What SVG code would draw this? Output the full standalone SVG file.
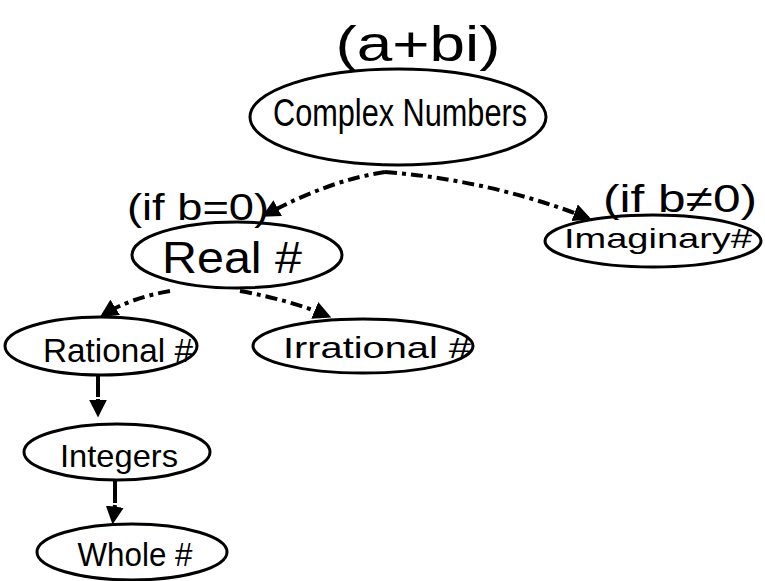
<svg xmlns="http://www.w3.org/2000/svg" width="765" height="581" viewBox="0 0 765 581">
<defs>
<style>
.node ellipse{fill:#fff;stroke:#000;stroke-width:3}
text{font-family:"Liberation Sans","DejaVu Sans",sans-serif;fill:#000;text-anchor:middle}
.conn path{fill:none;stroke:#000;stroke-width:4;stroke-dasharray:12 5 4 5}
.conn .solid{stroke-dasharray:none}
</style>
<marker id="ah" viewBox="0 0 10 10" refX="8" refY="5" markerWidth="4.5" markerHeight="4.5" orient="auto-start-reverse">
<path d="M0,0 L10,5 L0,10 Z" fill="#000"/>
</marker>
</defs>
<rect width="765" height="581" fill="#fff"/>
<g id="connectors" class="conn">
<path d="M385,172 Q330,180 265,215" marker-end="url(#ah)"/>
<path d="M385,172 Q490,180 588,218" marker-end="url(#ah)"/>
<path d="M170,291 Q130,298 103,315" marker-end="url(#ah)"/>
<path d="M240,291 Q290,300 328,316" marker-end="url(#ah)"/>
<path class="solid" d="M98,376 L98,397"/>
<path d="M98,399 L98,414" marker-end="url(#ah)"/>
<path class="solid" d="M115,481 L115,503"/>
<path d="M115,505 L113,521" marker-end="url(#ah)"/>
</g>
<g id="complex" class="node">
<ellipse cx="398" cy="117" rx="148" ry="48"/>
<text x="400" y="126" font-size="38" textLength="254" lengthAdjust="spacingAndGlyphs">Complex Numbers</text>
<text x="418" y="61" font-size="50" textLength="165" lengthAdjust="spacingAndGlyphs">(a+bi)</text>
</g>
<g id="real" class="node">
<ellipse cx="237" cy="255" rx="105" ry="33"/>
<text x="232" y="273" font-size="44" textLength="140" lengthAdjust="spacingAndGlyphs">Real #</text>
<text x="198" y="220" font-size="36" textLength="142" lengthAdjust="spacingAndGlyphs">(if b=0)</text>
</g>
<g id="imaginary" class="node">
<ellipse cx="653" cy="241" rx="108" ry="26"/>
<text x="658" y="248" font-size="28" textLength="188" lengthAdjust="spacingAndGlyphs">Imaginary#</text>
<text x="680" y="212" font-size="38" textLength="154" lengthAdjust="spacingAndGlyphs">(if b≠0)</text>
</g>
<g id="rational" class="node">
<ellipse cx="101" cy="346" rx="96" ry="29"/>
<text x="118" y="362" font-size="34" textLength="150" lengthAdjust="spacingAndGlyphs">Rational #</text>
</g>
<g id="irrational" class="node">
<ellipse cx="363" cy="346" rx="110" ry="27"/>
<text x="377" y="358" font-size="29" textLength="188" lengthAdjust="spacingAndGlyphs">Irrational #</text>
</g>
<g id="integers" class="node">
<ellipse cx="117" cy="452" rx="93" ry="28"/>
<text x="119" y="467" font-size="32" textLength="118" lengthAdjust="spacingAndGlyphs">Integers</text>
</g>
<g id="whole" class="node">
<ellipse cx="132" cy="552" rx="95" ry="28"/>
<text x="135" y="566" font-size="33" textLength="115" lengthAdjust="spacingAndGlyphs">Whole #</text>
</g>
</svg>
